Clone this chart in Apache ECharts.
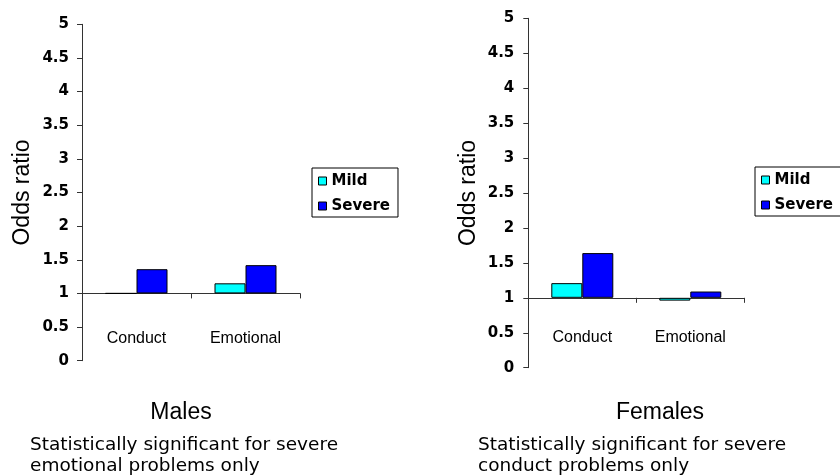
<!DOCTYPE html>
<html>
<head>
<meta charset="utf-8">
<title>Odds ratio by problem severity</title>
<script src="https://cdn.jsdelivr.net/npm/echarts@6/dist/echarts.min.js"></script>
<style>
  html, body { margin: 0; padding: 0; background: #fff; }
  #chart { width: 840px; height: 476px; }
</style>
</head>
<body>
<div id="chart"></div>
<script>
// Problem types on the category axis
const categories = ['Conduct', 'Emotional'];
const seriesNames = ['Mild', 'Severe'];

// Odds ratios, males
const malesMild = [1.00, 1.15];
const malesSevere = [1.36, 1.42];

// Odds ratios, females
const femalesMild = [1.21, 0.96];
const femalesSevere = [1.64, 1.09];

// Value axis range (odds ratio) and tick step
const axisMin = 0;
const axisMax = 5;
const axisStep = 0.5;

// Bars grow up or down from an odds ratio of 1 (no effect)
const BASELINE = 1;

const panelTitles = ['Males', 'Females'];
const panelNotes = [
  'Statistically significant for severe\nemotional problems only',
  'Statistically significant for severe\nconduct problems only'
];

const colors = { mild: '#00FFFF', severe: '#0000FF', line: '#333333', text: '#000000' };

const shift = v => +(v - BASELINE).toFixed(4);
const tickLabel = v => String(Math.round((v + BASELINE) * 100) / 100);

// Category labels sit in the lower part of the plot, below the baseline
function xAxisFor(gridIndex, labelMargin) {
  return {
    type: 'category',
    gridIndex,
    data: categories,
    axisLine: { show: true, onZero: true, lineStyle: { color: colors.line, width: 1 } },
    axisTick: { show: true, inside: false, length: 5, alignWithLabel: false, lineStyle: { color: colors.line } },
    axisLabel: { margin: labelMargin, color: colors.text, fontFamily: 'Liberation Sans', fontSize: 16 },
    splitLine: { show: false }
  };
}

function yAxisFor(gridIndex, labelMargin) {
  return {
    type: 'value',
    gridIndex,
    min: axisMin - BASELINE,
    max: axisMax - BASELINE,
    interval: axisStep,
    name: 'Odds ratio',
    nameLocation: 'middle',
    nameRotate: 90,
    nameGap: 48,
    nameTextStyle: { color: colors.text, fontFamily: 'Liberation Sans', fontSize: 23 },
    axisLine: { show: true, lineStyle: { color: colors.line, width: 1 } },
    axisTick: { show: true, inside: false, length: 5, lineStyle: { color: colors.line } },
    axisLabel: {
      margin: labelMargin,
      formatter: tickLabel,
      color: colors.text,
      fontFamily: 'DejaVu Sans',
      fontWeight: 'bold',
      fontSize: 15
    },
    splitLine: { show: false }
  };
}

function barSeries(name, values, color, axisIndex) {
  return {
    type: 'bar',
    name,
    xAxisIndex: axisIndex,
    yAxisIndex: axisIndex,
    data: values.map(shift),
    barWidth: 31,
    barGap: '0%',
    itemStyle: { color, borderColor: '#000', borderWidth: 1 },
    emphasis: { disabled: true },
    animation: false
  };
}

function legendFor(left, top) {
  return {
    left, top,
    orient: 'vertical',
    data: seriesNames,
    backgroundColor: '#fff',
    borderColor: '#000',
    borderWidth: 1,
    padding: [5, 8, 3, 6],
    itemWidth: 8,
    itemHeight: 8,
    itemGap: 9,
    icon: 'rect',
    selectedMode: false,
    itemStyle: { borderColor: '#000', borderWidth: 1 },
    textStyle: { color: colors.text, fontFamily: 'DejaVu Sans', fontWeight: 'bold', fontSize: 15, lineHeight: 16 }
  };
}

const titleStyle = { color: colors.text, fontFamily: 'Liberation Sans', fontSize: 23, fontWeight: 'normal' };
const noteStyle = { color: colors.text, fontFamily: 'DejaVu Sans', fontSize: 18.5, fontWeight: 'normal', lineHeight: 21.7 };

const chart = echarts.init(document.getElementById('chart'), null, { renderer: 'canvas' });

chart.setOption({
  animation: false,
  backgroundColor: '#fff',
  title: [
    { text: panelTitles[0], left: 181, top: 401, textAlign: 'center', padding: 0, textStyle: titleStyle },
    { text: panelTitles[1], left: 660, top: 401, textAlign: 'center', padding: 0, textStyle: titleStyle },
    { text: panelNotes[0], left: 30, top: 434, padding: 0, textStyle: noteStyle },
    { text: panelNotes[1], left: 478, top: 434, padding: 0, textStyle: noteStyle }
  ],
  legend: [legendFor(312, 168), legendFor(755, 167)],
  grid: [
    { left: 82, top: 24.3, width: 218, height: 336.4 },
    { left: 528.3, top: 18.3, width: 216, height: 349.4 }
  ],
  xAxis: [xAxisFor(0, -30), xAxisFor(1, -38)],
  yAxis: [yAxisFor(0, 13), yAxisFor(1, 14)],
  series: [
    barSeries(seriesNames[0], malesMild, colors.mild, 0),
    barSeries(seriesNames[1], malesSevere, colors.severe, 0),
    barSeries(seriesNames[0], femalesMild, colors.mild, 1),
    barSeries(seriesNames[1], femalesSevere, colors.severe, 1)
  ]
});
</script>
</body>
</html>
